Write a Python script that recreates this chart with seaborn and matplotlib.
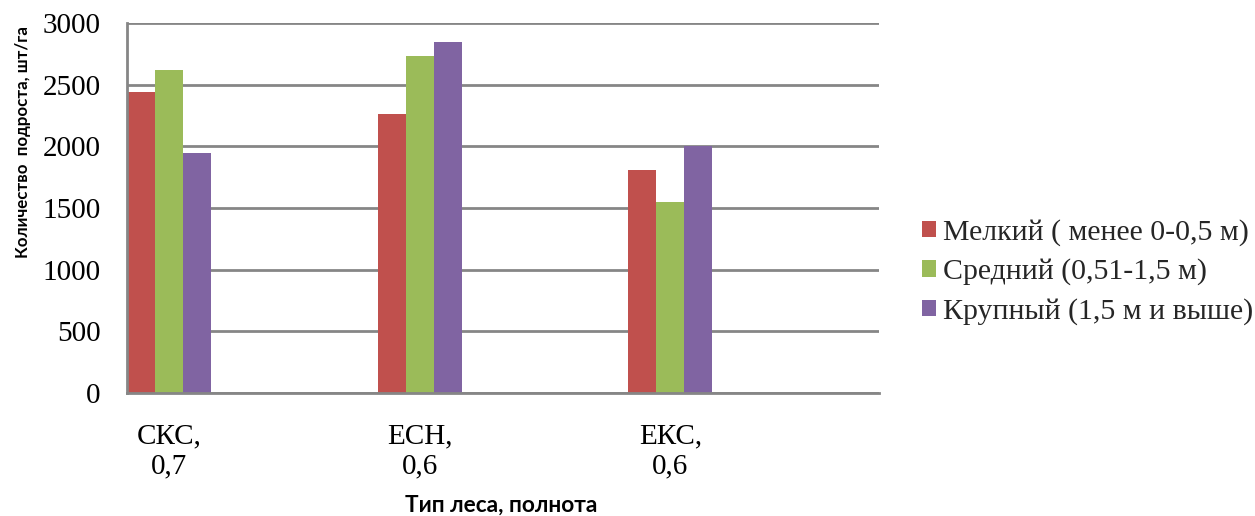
import matplotlib
matplotlib.use("Agg")
import matplotlib.pyplot as plt
import matplotlib.patches as mpatches
import seaborn as sns
import pandas as pd

# Forest type / stand density categories
categories = ["СКС,\n0,7", "ЕСН,\n0,6", "ЕКС,\n0,6"]

# Undergrowth counts per size class, pcs/ha
series_names = ["Мелкий ( менее 0-0,5 м)", "Средний (0,51-1,5 м)", "Крупный (1,5 м и выше)"]
small = [2440, 2260, 1810]
medium = [2620, 2730, 1550]
large = [1950, 2850, 2000]

y_ticks = [0, 500, 1000, 1500, 2000, 2500, 3000]

colors = ["#C0504D", "#9BBB59", "#8064A2"]
grid_color = "#868686"

rows = []
for name, vals in zip(series_names, [small, medium, large]):
    for cat, v in zip(categories, vals):
        rows.append({"cat": cat, "series": name, "value": v})
df = pd.DataFrame(rows)

sns.set_theme(style="white")
serif = ["Liberation Serif", "DejaVu Serif"]
plt.rcParams["font.family"] = serif

fig = plt.figure(figsize=(12.55, 5.16), dpi=100)
ax = fig.add_axes([127 / 1255, 1 - 393 / 516, (879 - 127) / 1255, (393 - 23) / 516])

sns.barplot(data=df, x="cat", y="value", hue="series", order=categories,
            hue_order=series_names, palette=colors, width=0.335,
            dodge=True, saturation=1, linewidth=0, ax=ax, legend=False)

ax.set_xlim(-0.1675, 2.8325)
ax.set_ylim(0, 3000)
ax.set_yticks(y_ticks)
ax.set_yticklabels([str(t) for t in y_ticks], fontsize=21, color="#000000")
ax.set_xticks(range(len(categories)))
ax.set_xticklabels(categories, fontsize=21, color="#000000", linespacing=1.2)
ax.tick_params(axis="both", length=0)
ax.tick_params(axis="y", pad=19)
ax.tick_params(axis="x", pad=22)

ax.yaxis.grid(True, color=grid_color, linewidth=2)
ax.set_axisbelow(True)
for side in ["top", "right"]:
    ax.spines[side].set_visible(False)
for side in ["left", "bottom"]:
    ax.spines[side].set_color(grid_color)
    ax.spines[side].set_linewidth(2)

sans_bold = dict(family=["Lato", "DejaVu Sans"], weight="bold", color="#000000")
ax.set_ylabel("Количество  подроста, шт/га", size=12.2, **sans_bold)
ax.yaxis.set_label_coords(-0.127, 0.678)
ax.set_xlabel("Тип леса, полнота", size=16.3, **sans_bold)
ax.xaxis.set_label_coords(0.497, -0.276)

handles = [mpatches.Patch(facecolor=c, edgecolor="none", label=n)
           for c, n in zip(colors, series_names)]
fig.legend(handles=handles, loc="center left", bbox_to_anchor=(922 / 1255, 1 - 272 / 516),
           frameon=False, fontsize=21.5, handlelength=0.47, handleheight=0.47,
           handletextpad=0.25, labelspacing=0.42, borderaxespad=0, borderpad=0)

fig.savefig("out.png", dpi=100, facecolor="white")
